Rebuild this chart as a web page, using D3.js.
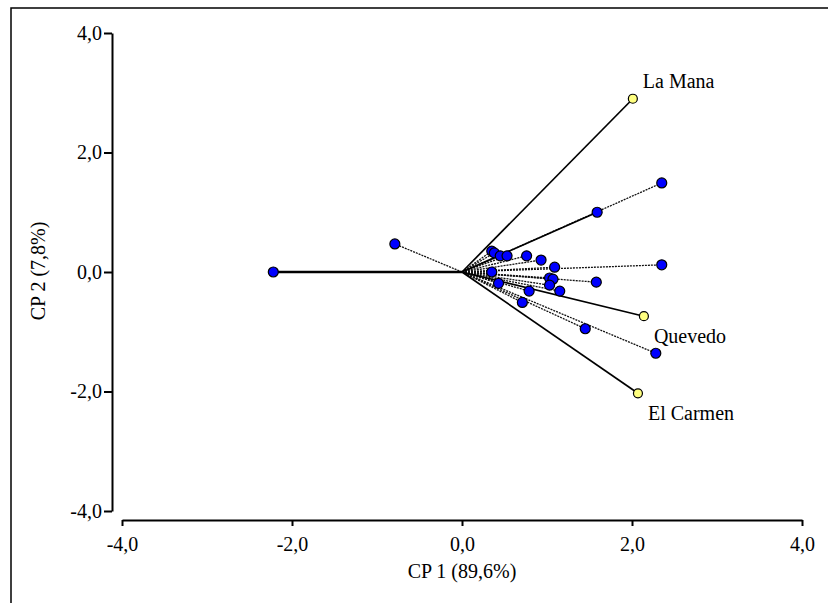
<!DOCTYPE html>
<html lang="es">
<head>
<meta charset="UTF-8">
<title>Biplot CP1 vs CP2</title>
<script src="https://cdn.jsdelivr.net/npm/d3@7"></script>
<style>
    body { margin: 0; background: #fff; }
    svg { display: block; font-family: "Liberation Serif", "Times New Roman", serif; }
    .axis path, .axis line { stroke: #000; stroke-width: 2; }
    .axis text { font-size: 20px; fill: #000; font-family: "Liberation Serif", serif; }
</style>
</head>
<body>
<div id="chart"></div>
<script>
// sites (yellow points)
const siteNames = ["La Mana", "Quevedo", "El Carmen"];
const siteCP1 = [2.01, 2.14, 2.07];
const siteCP2 = [2.90, -0.74, -2.03];

// variables (blue points)
const varCP1 = [2.35, 1.59, 2.35, 1.58, 2.28, 1.45, -2.22, -0.79, 0.35, 0.38, 0.45, 0.53,
                0.76, 0.93, 1.09, 0.35, 1.03, 1.07, 1.03, 1.15, 0.79, 0.43, 0.71];
const varCP2 = [1.49, 1.00, 0.12, -0.17, -1.36, -0.95, 0.00, 0.47, 0.35, 0.32, 0.27, 0.27,
                0.27, 0.20, 0.08, 0.00, -0.10, -0.12, -0.22, -0.32, -0.32, -0.19, -0.51];
// vectors drawn as full lines (the rest are dotted)
const varMain = [false, true, false, false, false, false, true, false, false, false, false, false,
                 false, false, false, false, false, false, false, false, false, false, false];

const axisTicks = [-4, -2, 0, 2, 4];
const xTitle = "CP 1 (89,6%)";
const yTitle = "CP 2 (7,8%)";

const width = 828, height = 603;
const fmt = d => d.toFixed(1).replace(".", ",");

const svg = d3.select("#chart").append("svg")
    .attr("width", width)
    .attr("height", height);

// outer frame
svg.append("rect")
    .attr("x", 11).attr("y", 8)
    .attr("width", 840).attr("height", 620)
    .attr("fill", "none")
    .attr("stroke", "#000")
    .attr("stroke-width", 1.5);

const x = d3.scaleLinear().domain([-4, 4]).range([122, 802]);
const y = d3.scaleLinear().domain([-4, 4]).range([511, 33]);

// axes (offset from each other)
svg.append("g")
    .attr("class", "axis")
    .attr("transform", "translate(0,520)")
    .call(d3.axisBottom(x).tickValues(axisTicks).tickFormat(fmt)
        .tickSize(6).tickSizeOuter(0).tickPadding(11));

svg.append("g")
    .attr("class", "axis")
    .attr("transform", "translate(112,0)")
    .call(d3.axisLeft(y).tickValues(axisTicks).tickFormat(fmt)
        .tickSize(8).tickSizeOuter(0).tickPadding(2));

svg.append("text")
    .attr("x", 462).attr("y", 578)
    .attr("text-anchor", "middle")
    .attr("font-size", 20)
    .text(xTitle);

svg.append("text")
    .attr("transform", "translate(45,271) rotate(-90)")
    .attr("text-anchor", "middle")
    .attr("font-size", 20)
    .text(yTitle);

const vars = varCP1.map((v, i) => ({ cp1: v, cp2: varCP2[i], main: varMain[i] }));
const sites = siteNames.map((n, i) => ({ name: n, cp1: siteCP1[i], cp2: siteCP2[i] }));

// dotted vectors first, then full ones
svg.append("g").selectAll("line")
    .data(vars.filter(d => !d.main))
    .join("line")
    .attr("x1", x(0)).attr("y1", y(0))
    .attr("x2", d => x(d.cp1)).attr("y2", d => y(d.cp2))
    .attr("stroke", "#111")
    .attr("stroke-width", 1.3)
    .attr("stroke-dasharray", "2,1");

svg.append("g").selectAll("line")
    .data(vars.filter(d => d.main).concat(sites))
    .join("line")
    .attr("x1", x(0)).attr("y1", y(0))
    .attr("x2", d => x(d.cp1)).attr("y2", d => y(d.cp2))
    .attr("stroke", "#000")
    .attr("stroke-width", d => d.cp2 === 0 ? 2.6 : 1.7);

svg.append("g").selectAll("circle")
    .data(vars)
    .join("circle")
    .attr("cx", d => x(d.cp1)).attr("cy", d => y(d.cp2))
    .attr("r", 5)
    .attr("fill", "#0000ff")
    .attr("stroke", "#000")
    .attr("stroke-width", 1.2);

svg.append("g").selectAll("circle")
    .data(sites)
    .join("circle")
    .attr("cx", d => x(d.cp1)).attr("cy", d => y(d.cp2))
    .attr("r", 4.5)
    .attr("fill", "#ffff80")
    .attr("stroke", "#000")
    .attr("stroke-width", 1.2);

svg.append("g").selectAll("text")
    .data(sites)
    .join("text")
    .attr("x", d => x(d.cp1) + 10)
    .attr("y", d => y(d.cp2) + (d.cp2 > 0 ? -11 : 27))
    .attr("font-size", 20)
    .text(d => d.name);
</script>
</body>
</html>
